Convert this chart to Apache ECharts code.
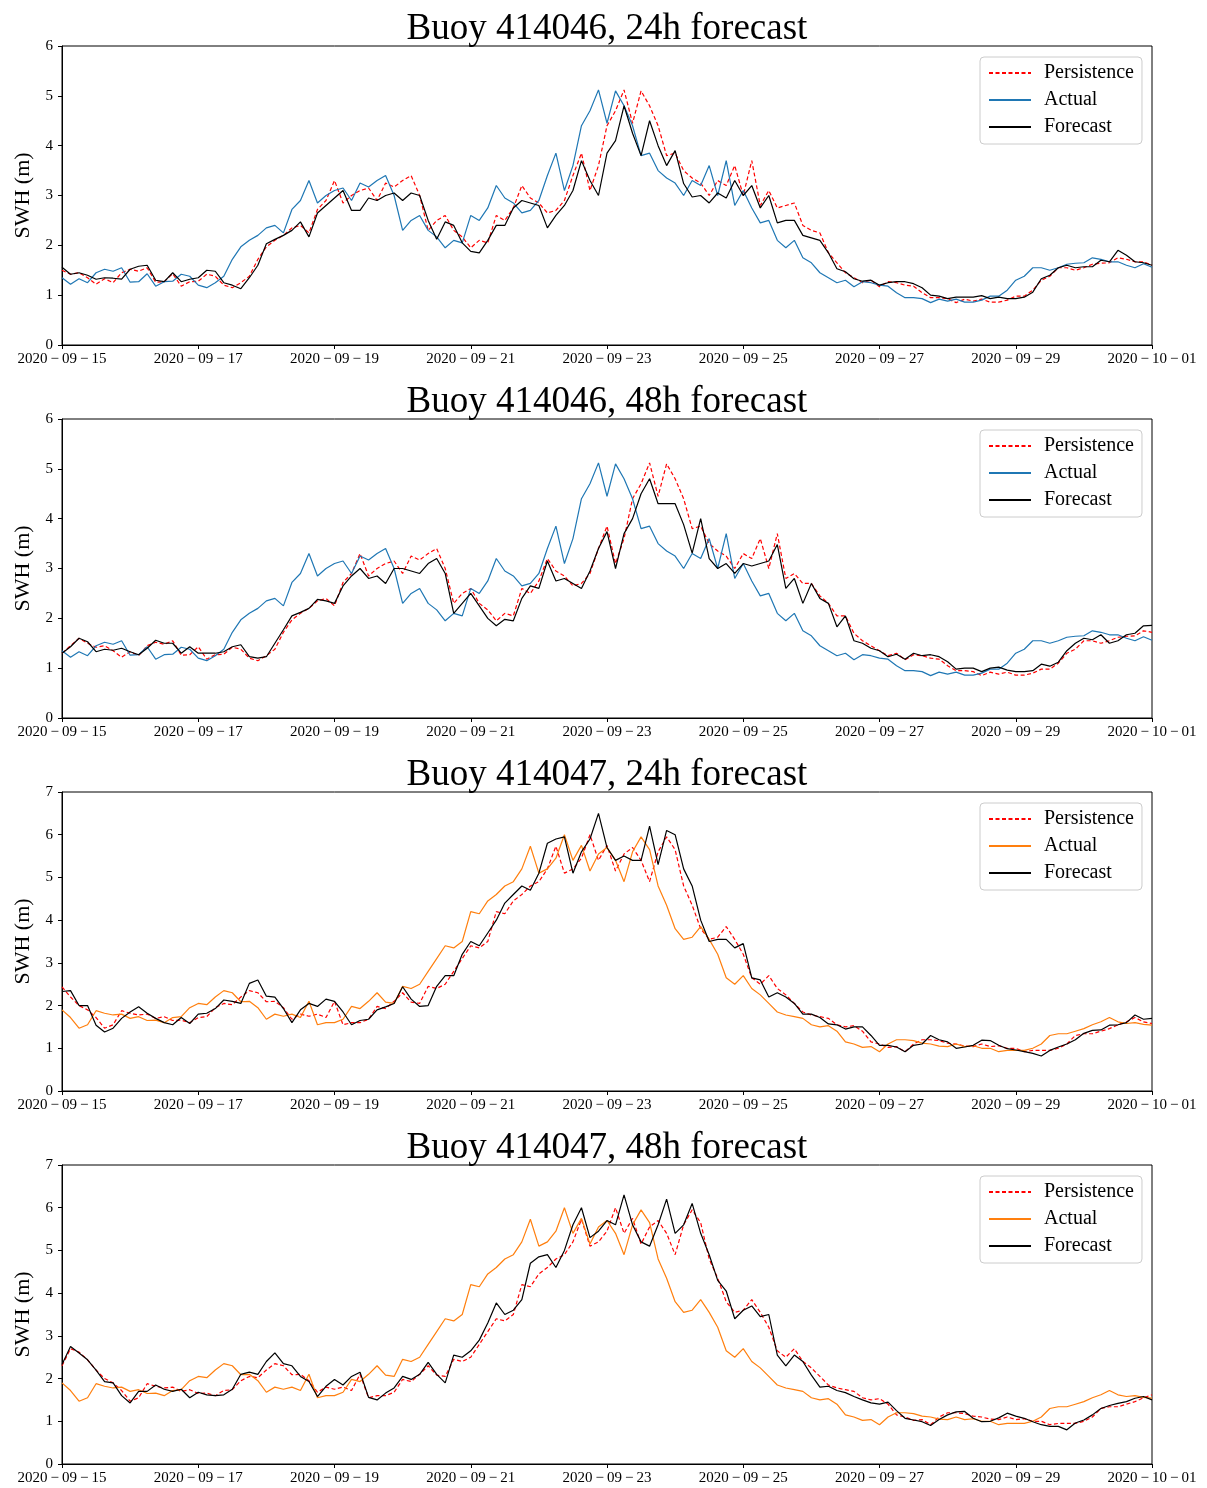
<!DOCTYPE html>
<html><head><meta charset="utf-8">
<script src="https://cdn.jsdelivr.net/npm/echarts@6/dist/echarts.min.js"></script>
<style>html,body{margin:0;padding:0;background:#fff}#c{width:1207px;height:1488px}</style>
</head><body><div id="c"></div>
<script>
// 3-hourly samples from 2020-09-15 00:00 to 2020-10-01 00:00 (129 points)
const START_UTC = Date.UTC(2020, 8, 15);
const STEP_HOURS = 3;

const actual_414046 = [1.35,1.22,1.33,1.25,1.45,1.52,1.48,1.55,1.26,1.27,
 1.43,1.18,1.27,1.28,1.42,1.38,1.2,1.15,1.25,1.38,
 1.72,1.97,2.1,2.2,2.35,2.4,2.25,2.72,2.9,3.3,
 2.85,3.0,3.1,3.15,2.9,3.25,3.17,3.3,3.4,3.0,
 2.3,2.5,2.6,2.3,2.17,1.95,2.1,2.05,2.6,2.5,
 2.75,3.2,2.95,2.85,2.65,2.7,2.9,3.4,3.85,3.1,
 3.6,4.4,4.7,5.12,4.45,5.1,4.8,4.4,3.8,3.85,
 3.5,3.35,3.25,3.0,3.3,3.2,3.6,3.0,3.7,2.8,
 3.1,2.75,2.45,2.5,2.1,1.95,2.1,1.75,1.65,1.45,
 1.35,1.25,1.3,1.17,1.27,1.25,1.2,1.18,1.05,0.95,
 0.95,0.93,0.85,0.92,0.88,0.92,0.86,0.86,0.9,0.98,
 0.98,1.1,1.3,1.38,1.55,1.55,1.5,1.55,1.62,1.64,
 1.65,1.75,1.72,1.67,1.67,1.6,1.55,1.63,1.56];

const persistence24_414046 = [1.5,1.42,1.45,1.35,1.22,1.33,1.25,1.45,1.52,1.48,
 1.55,1.26,1.27,1.43,1.18,1.27,1.28,1.42,1.38,1.2,
 1.15,1.25,1.38,1.72,1.97,2.1,2.2,2.35,2.4,2.25,
 2.72,2.9,3.3,2.85,3.0,3.1,3.15,2.9,3.25,3.17,
 3.3,3.4,3.0,2.3,2.5,2.6,2.3,2.17,1.95,2.1,
 2.05,2.6,2.5,2.75,3.2,2.95,2.85,2.65,2.7,2.9,
 3.4,3.85,3.1,3.6,4.4,4.7,5.12,4.45,5.1,4.8,
 4.4,3.8,3.85,3.5,3.35,3.25,3.0,3.3,3.2,3.6,
 3.0,3.7,2.8,3.1,2.75,2.8,2.85,2.4,2.3,2.25,
 1.85,1.65,1.45,1.35,1.25,1.3,1.17,1.27,1.25,1.2,
 1.18,1.05,0.95,0.95,0.93,0.85,0.92,0.88,0.92,0.86,
 0.86,0.9,0.98,0.98,1.1,1.3,1.38,1.55,1.55,1.5,
 1.55,1.62,1.64,1.65,1.75,1.72,1.67,1.67,1.6];

const forecast24_414046 = [1.56,1.42,1.45,1.4,1.32,1.35,1.34,1.32,1.52,1.58,
 1.6,1.3,1.27,1.45,1.27,1.32,1.35,1.5,1.48,1.25,
 1.2,1.13,1.35,1.6,2.03,2.12,2.2,2.3,2.47,2.17,
 2.65,2.8,2.95,3.1,2.7,2.7,2.95,2.9,3.0,3.05,
 2.9,3.05,3.0,2.5,2.12,2.47,2.4,2.05,1.88,1.85,
 2.1,2.4,2.4,2.75,2.9,2.85,2.8,2.35,2.6,2.8,
 3.1,3.7,3.3,3.0,3.85,4.1,4.8,4.25,3.8,4.5,
 4.0,3.6,3.9,3.24,2.97,3.0,2.85,3.05,2.95,3.3,
 3.0,3.2,2.75,3.0,2.45,2.5,2.5,2.2,2.15,2.1,
 1.85,1.53,1.47,1.33,1.28,1.3,1.2,1.25,1.27,1.27,
 1.23,1.15,1.0,0.98,0.93,0.96,0.96,0.96,0.99,0.93,
 0.96,0.93,0.93,0.96,1.06,1.33,1.4,1.55,1.6,1.55,
 1.57,1.57,1.7,1.67,1.9,1.8,1.67,1.65,1.6];

const persistence48_414046 = [1.3,1.45,1.6,1.5,1.42,1.45,1.35,1.22,1.33,1.25,
 1.45,1.52,1.48,1.55,1.26,1.27,1.43,1.18,1.27,1.28,
 1.42,1.38,1.2,1.15,1.25,1.38,1.72,1.97,2.1,2.2,
 2.35,2.4,2.25,2.72,2.9,3.3,2.85,3.0,3.1,3.15,
 2.9,3.25,3.17,3.3,3.4,3.0,2.3,2.5,2.6,2.3,
 2.17,1.95,2.1,2.05,2.6,2.5,2.75,3.2,2.95,2.85,
 2.65,2.7,2.9,3.4,3.85,3.1,3.6,4.4,4.7,5.12,
 4.45,5.1,4.8,4.4,3.8,3.85,3.5,3.35,3.25,3.0,
 3.3,3.2,3.6,3.0,3.7,2.8,2.9,2.7,2.7,2.45,
 2.3,2.05,2.05,1.7,1.55,1.45,1.35,1.25,1.3,1.17,
 1.27,1.25,1.2,1.18,1.05,0.95,0.95,0.93,0.85,0.92,
 0.88,0.92,0.86,0.86,0.9,0.98,0.98,1.1,1.3,1.38,
 1.55,1.55,1.5,1.55,1.62,1.64,1.65,1.75,1.72];

const forecast48_414046 = [1.3,1.43,1.6,1.53,1.33,1.38,1.36,1.4,1.33,1.27,
 1.4,1.56,1.5,1.5,1.3,1.43,1.3,1.3,1.3,1.33,
 1.43,1.47,1.23,1.2,1.23,1.5,1.77,2.05,2.12,2.2,
 2.38,2.35,2.3,2.65,2.85,3.0,2.8,2.85,2.7,3.0,
 3.0,2.95,2.9,3.1,3.2,2.9,2.1,2.3,2.5,2.25,
 2.0,1.85,1.98,1.95,2.4,2.65,2.6,3.15,2.75,2.8,
 2.7,2.6,2.95,3.4,3.74,3.0,3.7,4.0,4.5,4.8,
 4.3,4.3,4.3,3.88,3.31,4.0,3.2,3.0,3.1,2.9,
 3.1,3.05,3.1,3.15,3.48,2.6,2.8,2.3,2.7,2.4,
 2.3,1.83,2.05,1.55,1.5,1.4,1.35,1.23,1.28,1.18,
 1.3,1.25,1.27,1.23,1.13,0.98,1.0,1.0,0.93,1.0,
 1.02,0.96,0.93,0.93,0.95,1.08,1.04,1.12,1.35,1.5,
 1.6,1.57,1.67,1.5,1.55,1.67,1.7,1.85,1.86];

const actual_414047 = [1.9,1.72,1.47,1.55,1.88,1.82,1.78,1.8,1.7,1.74,
 1.65,1.66,1.6,1.72,1.74,1.95,2.05,2.02,2.2,2.35,
 2.3,2.09,2.1,1.95,1.68,1.8,1.75,1.8,1.72,2.1,
 1.55,1.6,1.6,1.68,1.98,1.93,2.1,2.3,2.08,2.05,
 2.45,2.4,2.5,2.8,3.1,3.4,3.35,3.5,4.2,4.15,
 4.45,4.6,4.8,4.9,5.2,5.73,5.1,5.2,5.45,6.0,
 5.4,5.75,5.15,5.55,5.7,5.4,4.9,5.6,5.95,5.65,
 4.8,4.35,3.8,3.55,3.6,3.85,3.55,3.2,2.65,2.5,
 2.7,2.4,2.25,2.05,1.85,1.78,1.74,1.7,1.55,1.5,
 1.53,1.4,1.15,1.1,1.02,1.04,0.92,1.1,1.2,1.2,
 1.18,1.12,1.1,1.05,1.04,1.1,1.04,1.06,1.0,1.0,
 0.92,0.95,0.95,0.95,1.0,1.1,1.3,1.34,1.34,1.4,
 1.46,1.55,1.62,1.72,1.62,1.58,1.6,1.56,1.54];

const persistence24_414047 = [2.44,2.2,2.0,1.9,1.72,1.47,1.55,1.88,1.82,1.78,
 1.8,1.7,1.74,1.65,1.66,1.6,1.72,1.74,1.95,2.05,
 2.02,2.2,2.35,2.3,2.09,2.1,1.95,1.68,1.8,1.75,
 1.8,1.72,2.1,1.55,1.6,1.6,1.68,1.98,1.93,2.1,
 2.3,2.08,2.05,2.45,2.4,2.5,2.8,3.1,3.4,3.35,
 3.5,4.2,4.15,4.45,4.6,4.8,4.9,5.2,5.73,5.1,
 5.2,5.45,6.0,5.4,5.75,5.15,5.55,5.7,5.4,4.9,
 5.6,5.95,5.65,4.8,4.35,3.8,3.55,3.6,3.85,3.55,
 3.2,2.65,2.5,2.7,2.4,2.25,2.05,1.85,1.78,1.74,
 1.7,1.55,1.5,1.53,1.4,1.15,1.1,1.02,1.04,0.92,
 1.1,1.2,1.2,1.18,1.12,1.1,1.05,1.04,1.1,1.04,
 1.06,1.0,1.0,0.92,0.95,0.95,0.95,1.0,1.1,1.3,
 1.34,1.34,1.4,1.46,1.55,1.62,1.72,1.62,1.58];

const forecast24_414047 = [2.33,2.35,2.0,2.0,1.54,1.38,1.47,1.7,1.85,1.97,
 1.82,1.7,1.6,1.55,1.72,1.58,1.8,1.82,1.93,2.13,
 2.1,2.05,2.52,2.6,2.22,2.2,1.93,1.6,1.9,2.05,
 1.98,2.15,2.1,1.85,1.55,1.65,1.68,1.9,1.97,2.05,
 2.44,2.15,1.98,2.0,2.45,2.7,2.7,3.2,3.5,3.4,
 3.7,4.0,4.4,4.6,4.8,4.7,5.1,5.8,5.9,5.95,
 5.1,5.6,5.9,6.5,5.7,5.4,5.5,5.4,5.4,6.2,
 5.3,6.1,6.0,5.2,4.8,4.0,3.5,3.55,3.55,3.35,
 3.45,2.65,2.6,2.2,2.3,2.2,2.05,1.8,1.8,1.72,
 1.57,1.55,1.45,1.5,1.5,1.3,1.07,1.07,1.03,0.92,
 1.07,1.1,1.3,1.2,1.15,1.0,1.03,1.07,1.19,1.18,
 1.07,0.99,0.96,0.92,0.88,0.82,0.95,1.03,1.1,1.2,
 1.35,1.42,1.43,1.54,1.55,1.6,1.78,1.68,1.7];

const persistence48_414047 = [2.3,2.7,2.62,2.44,2.2,2.0,1.9,1.72,1.47,1.55,
 1.88,1.82,1.78,1.8,1.7,1.74,1.65,1.66,1.6,1.72,
 1.74,1.95,2.05,2.02,2.2,2.35,2.3,2.09,2.1,1.95,
 1.68,1.8,1.75,1.8,1.72,2.1,1.55,1.6,1.6,1.68,
 1.98,1.93,2.1,2.3,2.08,2.05,2.45,2.4,2.5,2.8,
 3.1,3.4,3.35,3.5,4.2,4.15,4.45,4.6,4.8,4.9,
 5.2,5.73,5.1,5.2,5.45,6.0,5.4,5.75,5.15,5.55,
 5.7,5.4,4.9,5.6,5.95,5.65,4.8,4.35,3.8,3.55,
 3.6,3.85,3.55,3.2,2.65,2.5,2.7,2.4,2.25,2.05,
 1.85,1.78,1.74,1.7,1.55,1.5,1.53,1.4,1.15,1.1,
 1.02,1.04,0.92,1.1,1.2,1.2,1.18,1.12,1.1,1.05,
 1.04,1.1,1.04,1.06,1.0,1.0,0.92,0.95,0.95,0.95,
 1.0,1.1,1.3,1.34,1.34,1.4,1.46,1.55,1.62];

const forecast48_414047 = [2.33,2.75,2.6,2.44,2.2,1.93,1.9,1.6,1.43,1.7,
 1.7,1.85,1.75,1.7,1.75,1.55,1.68,1.62,1.6,1.62,
 1.75,2.1,2.15,2.1,2.4,2.6,2.35,2.3,2.05,1.93,
 1.58,1.82,1.98,1.85,2.05,2.15,1.56,1.5,1.66,1.78,
 2.05,1.98,2.1,2.38,2.1,1.9,2.55,2.5,2.65,2.9,
 3.3,3.77,3.5,3.6,3.85,4.7,4.85,4.9,4.6,5.0,
 5.6,6.0,5.3,5.45,5.7,5.6,6.3,5.6,5.2,5.1,
 5.6,6.2,5.4,5.6,6.1,5.4,4.9,4.3,4.05,3.4,
 3.6,3.7,3.45,3.5,2.55,2.3,2.55,2.4,2.08,1.8,
 1.82,1.72,1.67,1.58,1.5,1.43,1.4,1.45,1.25,1.07,
 1.03,0.99,0.9,1.04,1.15,1.22,1.23,1.07,0.99,1.0,
 1.08,1.19,1.12,1.07,0.99,0.92,0.88,0.88,0.8,0.96,
 1.03,1.15,1.3,1.37,1.42,1.46,1.54,1.58,1.5];

const panelTitles = ['Buoy 414046, 24h forecast','Buoy 414046, 48h forecast','Buoy 414047, 24h forecast','Buoy 414047, 48h forecast'];
const legendNames = ['Persistence','Actual','Forecast'];
const yAxisName = 'SWH (m)';

// categories: 3-hourly time stamps
const categories = actual_414046.map((_, i) => new Date(START_UTC + i * STEP_HOURS * 3600e3).toISOString().slice(0, 16).replace('T', ' '));

const panels = [
  {actual: actual_414046, persistence: persistence24_414046, forecast: forecast24_414046, color: '#1f77b4', yMax: 6},
  {actual: actual_414046, persistence: persistence48_414046, forecast: forecast48_414046, color: '#1f77b4', yMax: 6},
  {actual: actual_414047, persistence: persistence24_414047, forecast: forecast24_414047, color: '#ff7f0e', yMax: 7},
  {actual: actual_414047, persistence: persistence48_414047, forecast: forecast48_414047, color: '#ff7f0e', yMax: 7}
];

const FONT = '"Liberation Serif", "DejaVu Serif", serif';
const TOPS = [46, 419, 792, 1165];
const GRID_LEFT = 62, GRID_W = 1090, GRID_H = 299;

const option = {
  animation: false,
  backgroundColor: '#fff',
  title: [], grid: [], xAxis: [], yAxis: [], legend: [], series: []
};

panels.forEach((p, i) => {
  const top = TOPS[i];
  option.title.push({
    text: panelTitles[i], left: GRID_LEFT + GRID_W / 2, textAlign: 'center', top: top - 35, padding: 0,
    textStyle: {fontFamily: FONT, fontSize: 37, fontWeight: 'normal', color: '#000'}
  });
  option.grid.push({left: GRID_LEFT, top: top, width: GRID_W, height: GRID_H,
    show: true, borderColor: '#000', borderWidth: 1, backgroundColor: 'transparent'});
  option.xAxis.push({
    type: 'category', gridIndex: i, data: categories, boundaryGap: false,
    axisLine: {show: true, lineStyle: {color: '#000', width: 1}},
    axisTick: {show: true, interval: 15, length: 4, lineStyle: {color: '#000'}},
    axisLabel: {interval: 15, fontFamily: FONT, fontSize: 15, color: '#000', margin: 7,
      formatter: v => v.slice(0, 10).split('-').join('\u2009\u2212\u2009')},
    splitLine: {show: false}
  });
  option.yAxis.push({
    type: 'value', gridIndex: i, min: 0, max: p.yMax, interval: 1,
    name: yAxisName, nameLocation: 'middle', nameGap: 25,
    nameTextStyle: {fontFamily: FONT, fontSize: 22, color: '#000'},
    axisLine: {show: true, lineStyle: {color: '#000', width: 1}},
    axisTick: {show: true, length: 4, lineStyle: {color: '#000'}},
    axisLabel: {fontFamily: FONT, fontSize: 15, color: '#000', margin: 9},
    splitLine: {show: false}
  });
  const names = legendNames.map(n => n + '#' + i);
  option.legend.push({
    data: names, orient: 'vertical', left: 980, top: top + 11,
    formatter: n => n.split('#')[0],
    backgroundColor: '#fff', borderColor: '#cccccc', borderWidth: 1, borderRadius: 4,
    padding: [6, 8, 7, 8], itemWidth: 42, itemHeight: 18, itemGap: 7, selectedMode: false,
    itemStyle: {opacity: 0, borderWidth: 0},
    textStyle: {fontFamily: FONT, fontSize: 20, color: '#000', padding: [0, 0, 0, 8]}
  });
  option.series.push({
    type: 'line', name: names[0], xAxisIndex: i, yAxisIndex: i, data: p.persistence,
    symbol: 'none', lineStyle: {color: '#ff0000', width: 1.2, type: [4, 2.5]}, itemStyle: {color: '#ff0000'}
  });
  option.series.push({
    type: 'line', name: names[1], xAxisIndex: i, yAxisIndex: i, data: p.actual,
    symbol: 'none', lineStyle: {color: p.color, width: 1.2}, itemStyle: {color: p.color}
  });
  option.series.push({
    type: 'line', name: names[2], xAxisIndex: i, yAxisIndex: i, data: p.forecast,
    symbol: 'none', lineStyle: {color: '#000', width: 1.2}, itemStyle: {color: '#000'}
  });
});

const chart = echarts.init(document.getElementById('c'), null, {renderer: 'canvas'});
chart.setOption(option);
</script>
</body></html>
